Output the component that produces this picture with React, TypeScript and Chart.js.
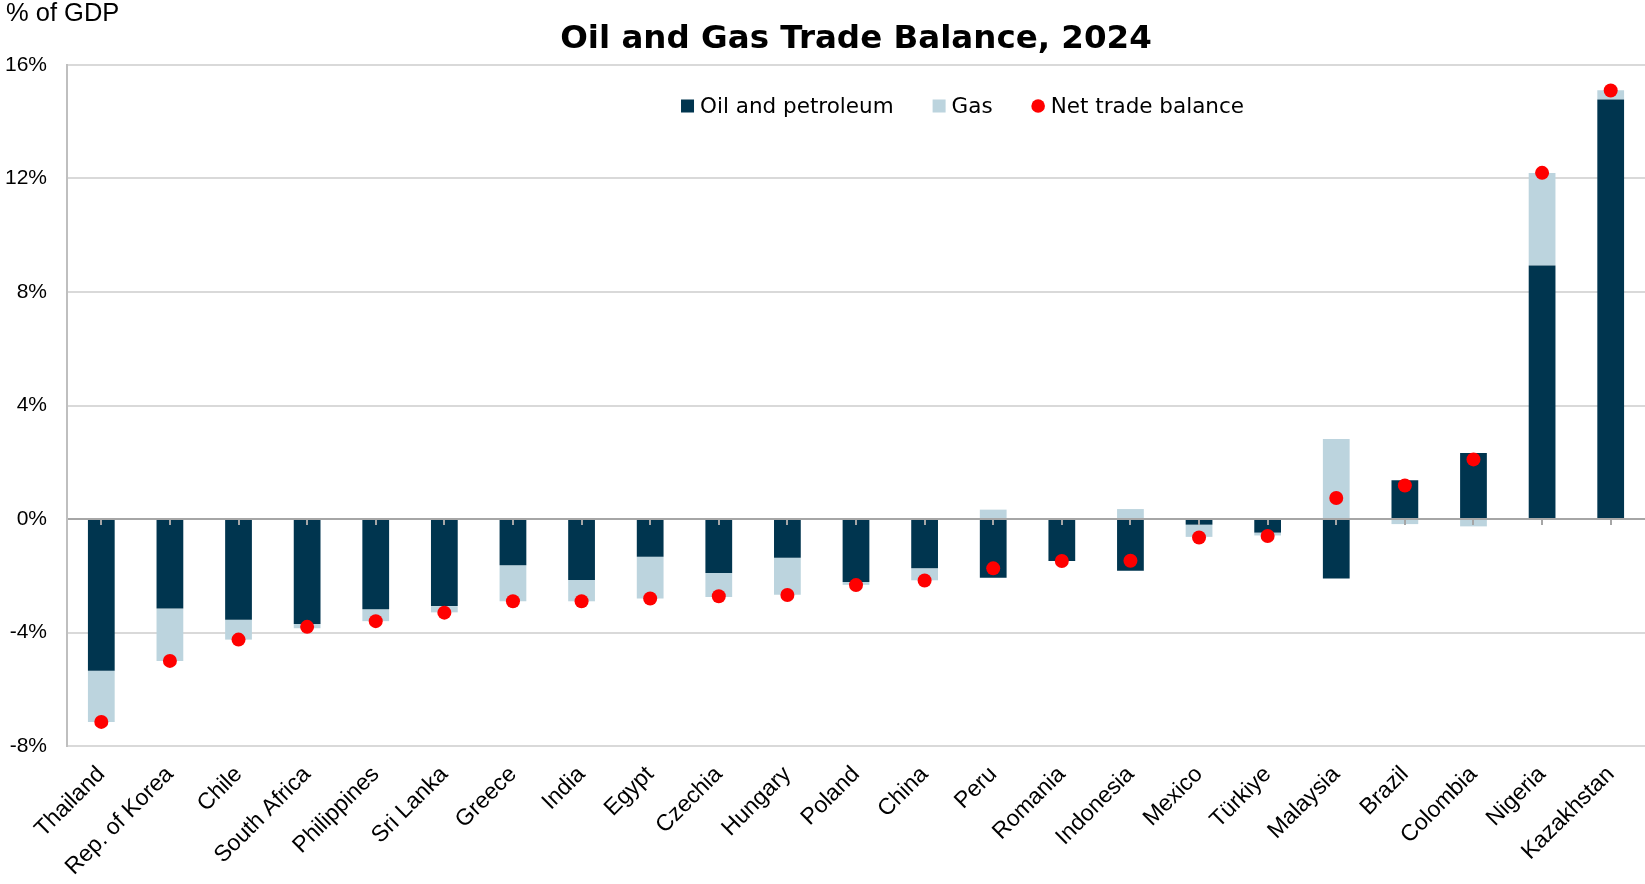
import React, { useEffect, useRef } from "react";
import { Chart, registerables } from "chart.js";

Chart.register(...registerables);

const categories = [
  "Thailand", "Rep. of Korea", "Chile", "South Africa", "Philippines", "Sri Lanka",
  "Greece", "India", "Egypt", "Czechia", "Hungary", "Poland", "China", "Peru",
  "Romania", "Indonesia", "Mexico", "Türkiye", "Malaysia", "Brazil", "Colombia",
  "Nigeria", "Kazakhstan",
];

const oilPetroleum = [
  -5.35, -3.15, -3.55, -3.7, -3.18, -3.07, -1.63, -2.15, -1.33, -1.9, -1.37, -2.22,
  -1.74, -2.07, -1.48, -1.82, -0.2, -0.48, -2.1, 1.37, 2.33, 8.93, 14.78,
];

const gas = [
  -1.8, -1.85, -0.7, -0.15, -0.42, -0.22, -1.27, -0.75, -1.47, -0.85, -1.3, -0.1,
  -0.42, 0.33, 0, 0.35, -0.43, -0.1, 2.82, -0.18, -0.26, 3.26, 0.33,
];

const netTradeBalance = [
  -7.15, -5.0, -4.25, -3.8, -3.6, -3.3, -2.9, -2.9, -2.8, -2.72, -2.68, -2.33,
  -2.17, -1.74, -1.48, -1.47, -0.65, -0.6, 0.74, 1.18, 2.1, 12.2, 15.1,
];

const yTicks = [-8, -4, 0, 4, 8, 12, 16];

const DARK = "#00354F";
const LIGHT = "#BCD4DE";
const RED = "#FF0000";
const TICK_FONT = "'Liberation Sans', Arial, Helvetica, sans-serif";
const TITLE_FONT = "'DejaVu Sans', Verdana, sans-serif";

const zeroPad = () => ({ left: 0, top: 0, right: 0, bottom: 0 });

export default function App() {
  const canvasRef = useRef<HTMLCanvasElement | null>(null);

  useEffect(() => {
    document.body.style.margin = "0";
    document.body.style.overflow = "hidden";
    const canvas = canvasRef.current;
    if (!canvas) return;

    const unitPlugin = {
      id: "unitLabel",
      afterDraw(chart: any) {
        const ctx = chart.ctx;
        ctx.save();
        ctx.font = `25.5px ${TICK_FONT}`;
        ctx.fillStyle = "#000";
        ctx.textAlign = "left";
        ctx.textBaseline = "middle";
        ctx.fillText("% of GDP", 6, 14);
        ctx.restore();
      },
    };

    const legendPlugin = {
      id: "insideLegend",
      afterDraw(chart: any) {
        const ctx = chart.ctx;
        const area = chart.chartArea;
        const ds = chart.data.datasets;
        const box = 13;
        const gap = 6;
        const spacing = 39;
        ctx.save();
        ctx.font = `21.5px ${TITLE_FONT}`;
        const widths = ds.map((d: any) => box + gap + ctx.measureText(d.label).width);
        const total = widths.reduce((a: number, b: number) => a + b, 0) + spacing * (ds.length - 1);
        const cx = area.left + (area.right - area.left) * 0.5675;
        const cy = area.top + 41;
        let x = cx - total / 2;
        ds.forEach((d: any, i: number) => {
          const color = d.type === "line" ? d.pointBackgroundColor : d.backgroundColor;
          ctx.fillStyle = color;
          if (d.type === "line") {
            ctx.beginPath();
            ctx.arc(x + box / 2, cy, 6.8, 0, Math.PI * 2);
            ctx.fill();
          } else {
            ctx.fillRect(x, cy - box / 2, box, box);
          }
          ctx.fillStyle = "#000";
          ctx.textAlign = "left";
          ctx.textBaseline = "middle";
          ctx.fillText(d.label, x + box + gap, cy + 1);
          x += widths[i] + spacing;
        });
        ctx.restore();
      },
    };

    const zeroTicksPlugin = {
      id: "zeroTicks",
      afterDatasetsDraw(chart: any) {
        const ctx = chart.ctx;
        const xs = chart.scales.x;
        const ys = chart.scales.y;
        const y0 = ys.getPixelForValue(0);
        ctx.save();
        ctx.strokeStyle = "#a6a6a6";
        ctx.lineWidth = 2;
        categories.forEach((_, i) => {
          const x = Math.round(xs.getPixelForValue(i));
          ctx.beginPath();
          ctx.moveTo(x, y0);
          ctx.lineTo(x, y0 + 6);
          ctx.stroke();
        });
        ctx.restore();
      },
    };

    const chart = new Chart(canvas, {
      type: "bar",
      data: {
        labels: categories,
        datasets: [
          {
            type: "bar",
            label: "Oil and petroleum",
            data: oilPetroleum,
            backgroundColor: DARK,
            stack: "trade",
            barPercentage: 0.39,
            categoryPercentage: 1,
            order: 2,
          },
          {
            type: "bar",
            label: "Gas",
            data: gas,
            backgroundColor: LIGHT,
            stack: "trade",
            barPercentage: 0.39,
            categoryPercentage: 1,
            order: 2,
          },
          {
            type: "line",
            label: "Net trade balance",
            data: netTradeBalance,
            stack: "net",
            showLine: false,
            pointRadius: 7,
            pointHoverRadius: 7,
            pointBackgroundColor: RED,
            pointBorderColor: RED,
            pointBorderWidth: 0,
            backgroundColor: RED,
            borderColor: RED,
            clip: false,
            order: 0,
          } as any,
        ],
      },
      options: {
        animation: false,
        responsive: false,
        maintainAspectRatio: false,
        layout: { autoPadding: false, padding: { left: 5, right: 0, top: 0, bottom: 0 } },
        plugins: {
          tooltip: { enabled: false },
          legend: { display: false },
          title: {
            display: true,
            text: "Oil and Gas Trade Balance, 2024",
            fullSize: false,
            color: "#000",
            font: { family: TITLE_FONT, size: 32.5, weight: "bold" as any, lineHeight: 1.2 },
            padding: { top: 20, bottom: 6 },
          },
        },
        scales: {
          x: {
            stacked: true,
            grid: { display: false, drawTicks: false },
            border: { display: false },
            afterFit(scale: any) {
              scale.paddingLeft = 0;
              scale.paddingRight = 0;
              if (scale._margins) {
                scale._margins.left = 0;
                scale._margins.right = 0;
              }
              scale.getPadding = zeroPad;
              scale.height = 138;
            },
            ticks: {
              color: "#000",
              font: { family: TICK_FONT, size: 23 },
              maxRotation: 45,
              minRotation: 45,
              autoSkip: false,
              padding: 15,
            },
          },
          y: {
            stacked: true,
            min: -8,
            max: 16,
            afterBuildTicks(scale: any) {
              scale.ticks = yTicks.map((v) => ({ value: v }));
            },
            afterFit(scale: any) {
              scale.width = 62;
            },
            grid: {
              drawTicks: false,
              lineWidth: 2,
              color: (c: any) => (c.tick && c.tick.value === 0 ? "#a6a6a6" : "#d9d9d9"),
            },
            border: { display: true, color: "#bfbfbf", width: 2 },
            ticks: {
              color: "#000",
              font: { family: TICK_FONT, size: 21 },
              padding: 20,
              callback: (v: any) => `${v}%`,
            },
          },
        },
      },
      plugins: [unitPlugin, legendPlugin, zeroTicksPlugin],
    });

    return () => chart.destroy();
  }, []);

  return (
    <div style={{ width: 1645, height: 884 }}>
      <canvas ref={canvasRef} width={1645} height={884} style={{ display: "block" }} />
    </div>
  );
}
